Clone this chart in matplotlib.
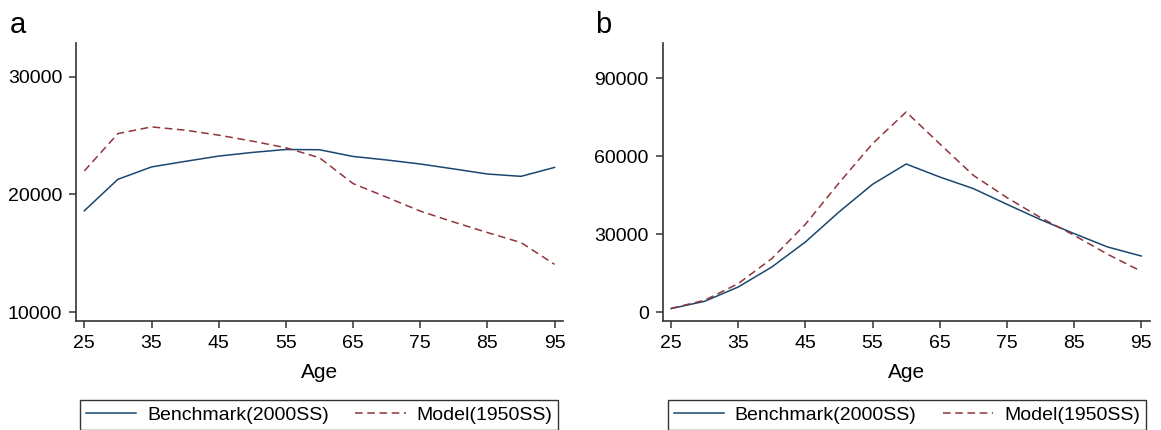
import numpy as np
import matplotlib
matplotlib.use("Agg")
import matplotlib.pyplot as plt

plt.rcParams['font.family'] = ['Liberation Sans', 'DejaVu Sans']

# ages on the x axis
age = [25, 30, 35, 40, 45, 50, 55, 60, 65, 70, 75, 80, 85, 90, 95]

# panel a
bench_a = [18620, 21290, 22340, 22810, 23260, 23570, 23820, 23800,
           23230, 22930, 22590, 22170, 21740, 21540, 22300]
model_a = [22000, 25170, 25740, 25460, 25040, 24530, 23970, 23120,
           20930, 19770, 18590, 17660, 16770, 15920, 14070]

# panel b
bench_b = [1420, 4230, 9730, 17420, 27040, 38580, 49230, 57040,
           52040, 47580, 41540, 35650, 30270, 25120, 21650]
model_b = [1500, 4620, 11030, 20650, 33850, 49730, 64880, 77040,
           64800, 52690, 44120, 36420, 29620, 22310, 15770]

xticks = [25, 35, 45, 55, 65, 75, 85, 95]
yticks_a = [10000, 20000, 30000]
yticks_b = [0, 30000, 60000, 90000]

NAVY = '#1a476f'
MAROON = '#90353b'
W, H = 1161, 430
FS = 14

fig = plt.figure(figsize=(W / 100, H / 100), dpi=100)

panels = [
    dict(l=76, r=563.3, ylim=(9287, 32835), b=bench_a, m=model_a,
         yt=yticks_a, tag='a', lx=10, leg=(80, 558)),
    dict(l=662.7, r=1150, ylim=(-3230, 103460), b=bench_b, m=model_b,
         yt=yticks_b, tag='b', lx=595, leg=(667.7, 1145.7)),
]

for p in panels:
    top, bot = 43.3, 320.7
    ax = fig.add_axes([p['l'] / W, 1 - bot / H, (p['r'] - p['l']) / W, (bot - top) / H])
    ax.plot(age, p['b'], color=NAVY, lw=1.1, label='Benchmark(2000SS)')
    ax.plot(age, p['m'], color=MAROON, lw=1.1, ls=(0, (5, 3)), label='Model(1950SS)')
    ax.set_xlim(23.76, 96.3)
    ax.set_ylim(*p['ylim'])
    ax.set_xticks(xticks)
    ax.set_yticks(p['yt'])
    ax.spines['top'].set_visible(False)
    ax.spines['right'].set_visible(False)
    for s in ('left', 'bottom'):
        ax.spines[s].set_linewidth(1.2)
        ax.spines[s].set_color('#333333')
    ax.tick_params(direction='out', length=5, width=1.1, color='#333333',
                   labelsize=FS, pad=5)
    ax.set_xlabel('Age', fontsize=15, labelpad=8)

    fig.text(p['lx'] / W, 1 - 33 / H, p['tag'], fontsize=21, va='baseline', ha='left')

    x0, x1 = p['leg']
    leg = ax.legend(loc='lower left', bbox_to_anchor=(x0 / W, 0.5 / H, (x1 - x0) / W, 0.07),
                    bbox_transform=fig.transFigure, mode='expand', ncol=2,
                    fontsize=FS, frameon=True, fancybox=False, borderaxespad=0,
                    handlelength=2.6, handletextpad=0.55, borderpad=0.3,
                    edgecolor='black')
    leg.get_frame().set_linewidth(1.0)

fig.savefig('out.png', dpi=100)
